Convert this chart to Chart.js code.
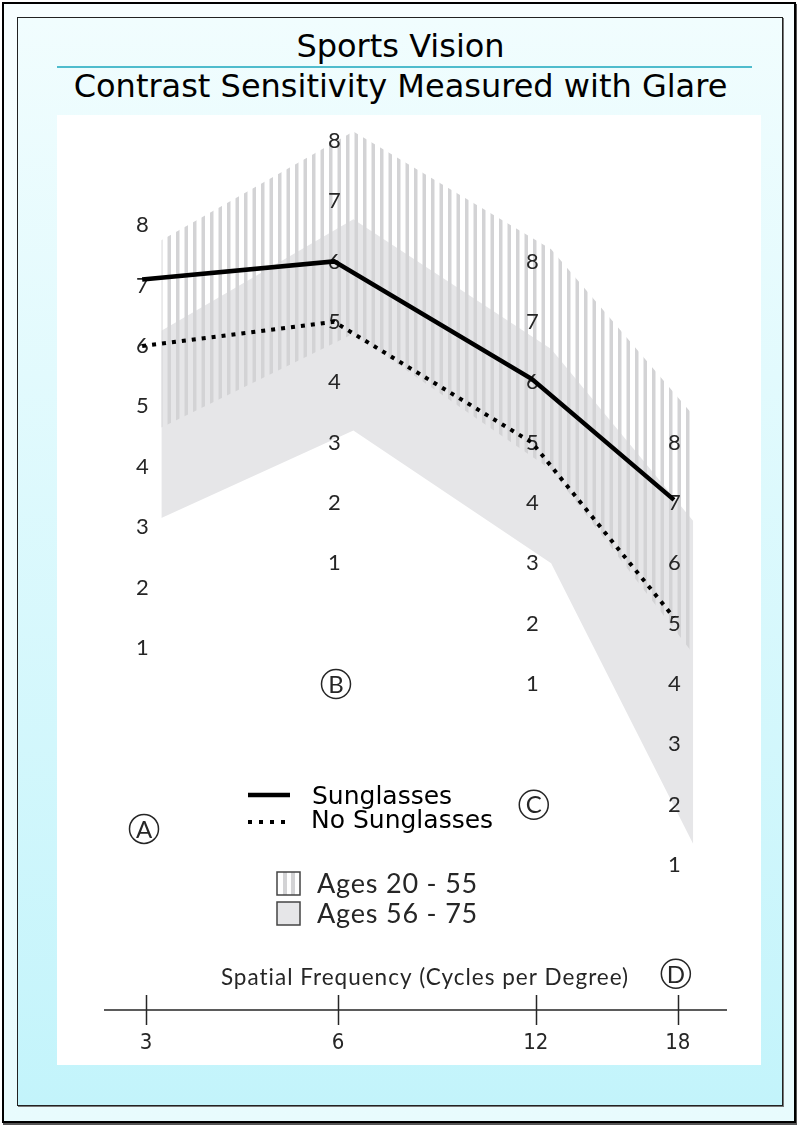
<!DOCTYPE html>
<html>
<head>
<meta charset="utf-8">
<script src="https://cdn.jsdelivr.net/npm/chart.js@4.4.0/dist/chart.umd.min.js"></script>
<style>
  body { margin: 0; width: 801px; height: 1128px; background: #fff; position: relative; overflow: hidden; }
  #outer { position: absolute; left: 2px; top: 2px; width: 794px; height: 1121px; box-sizing: border-box;
           border: 2px solid #000; background: linear-gradient(#f7feff, #e8fbfd); box-shadow: 1px 2px 0 #555; }
  #inner { position: absolute; left: 17px; top: 17px; width: 766px; height: 1089px; box-sizing: border-box;
           border: 1.5px solid #222; background: linear-gradient(#f1fdfe, #c3f4fb); box-shadow: 1px 1px 0 #777; }
  .title { position: absolute; left: 0; width: 801px; text-align: center; font-family: "DejaVu Sans", sans-serif;
           font-size: 32px; color: #000; line-height: 1; }
  #rule { position: absolute; left: 57px; top: 66px; width: 695px; height: 1.5px; background: #4fbccd; }
  #panel { position: absolute; left: 57px; top: 115px; width: 704px; height: 950px; background: #fff; }
</style>
</head>
<body>
<div id="outer"></div>
<div id="inner"></div>
<div class="title" style="top:30px">Sports Vision</div>
<div id="rule"></div>
<div class="title" style="top:70px">Contrast Sensitivity Measured with Glare</div>
<div id="panel"><canvas id="grafico" width="704" height="950"></canvas></div>

<script>
// Data (values in each column's own 1-8 scale)
const frequencies   = ['3', '6', '12', '18'];
const columnLetters = ['A', 'B', 'C', 'D'];
const scaleLevels   = [1, 2, 3, 4, 5, 6, 7, 8];
const columnShift   = [0, 1.4, -0.6, -3.6];      // how far each column's scale is raised
const sunglasses    = [7.1, 6.0, 6.05, 7.05];
const noSunglasses  = [6.0, 5.0, 5.0, 5.1];
const ages2055High  = [7.75, 8.15, 8.2, 8.45];
const ages2055Low   = [4.65, 4.8, 4.55, 4.5];
const ages5675High  = [6.25, 6.7, 6.55, 6.7];
const ages5675Low   = [3.15, 3.2, 3.0, 1.35];
const letterLevel   = [-2, -1, -1, -0.8];

// Layout: horizontal place of each column on the frequency axis
const colPos    = [0, 1, 2.03, 2.77];
const bandShift = 0.08;
const lineShift = -0.02;

// Build points in the shared vertical units
function puntos(valores, dx){
    return valores.map((v, i) => ({ x: colPos[i] + dx, y: v + columnShift[i] }));
}

// Vertical stripe pattern for the 20-55 band
function patronRayas(){
    const c = document.createElement('canvas');
    c.width = 17; c.height = 4;
    const g = c.getContext('2d');
    g.fillStyle = '#d3d3d5';
    g.fillRect(0, 0, 3.5, 4);
    g.fillRect(8.5, 0, 3.5, 4);
    return g.createPattern(c, 'repeat');
}
const rayas = patronRayas();
const grisBanda = '#e6e6e8';
const tinta = '#262626';

const decorPlugin = {
    id: 'decor',
    // column numbers sit above the bands but below the lines
    afterDatasetDraw(chart, args){
        if(args.index !== 2) return;
        const ctx = chart.ctx, xs = chart.scales.x, ys = chart.scales.y;
        ctx.save();
        ctx.fillStyle = tinta;
        ctx.font = '22px Lato';
        ctx.textAlign = 'center';
        ctx.textBaseline = 'middle';
        colPos.forEach((p, i) => {
            scaleLevels.forEach(v => {
                ctx.fillText(String(v), xs.getPixelForValue(p) - 3.5, ys.getPixelForValue(v + columnShift[i]));
            });
        });
        ctx.restore();
    },
    afterDraw(chart){
        const ctx = chart.ctx, xs = chart.scales.x, ys = chart.scales.y;
        const area = chart.chartArea;
        ctx.save();
        ctx.strokeStyle = tinta;
        ctx.fillStyle = tinta;

        // circled column letters
        colPos.forEach((p, i) => {
            const cx = xs.getPixelForValue(p) - 2;
            const cy = ys.getPixelForValue(letterLevel[i] + columnShift[i]);
            ctx.lineWidth = 1.5;
            ctx.beginPath();
            ctx.arc(cx, cy, 14.5, 0, Math.PI * 2);
            ctx.stroke();
            ctx.font = '24px Lato';
            ctx.textAlign = 'center';
            ctx.textBaseline = 'middle';
            ctx.fillText(columnLetters[i], cx, cy + 1);
        });

        // frequency axis
        const yb = area.bottom;
        ctx.lineWidth = 1.5;
        ctx.beginPath();
        ctx.moveTo(area.left, yb);
        ctx.lineTo(area.right, yb);
        colPos.forEach(p => {
            const x = Math.round(xs.getPixelForValue(p)) + 0.5;
            ctx.moveTo(x, yb - 15);
            ctx.lineTo(x, yb + 15);
        });
        ctx.stroke();
        ctx.font = '22px "Liberation Sans Narrow", "DejaVu Sans Condensed", sans-serif';
        ctx.textAlign = 'center';
        ctx.textBaseline = 'middle';
        colPos.forEach((p, i) => ctx.fillText(frequencies[i], xs.getPixelForValue(p), yb + 33));
        ctx.font = '22.5px Lato';
        ctx.letterSpacing = '1px';
        ctx.fillText('Spatial Frequency (Cycles per Degree)', 368, yb - 32);

        // legend
        ctx.letterSpacing = '0px';
        ctx.strokeStyle = '#000';
        ctx.lineWidth = 4.5;
        ctx.beginPath();
        ctx.moveTo(191, 680); ctx.lineTo(233, 680);
        ctx.stroke();
        ctx.lineWidth = 4;
        ctx.setLineDash([4, 7]);
        ctx.beginPath();
        ctx.moveTo(191, 707); ctx.lineTo(233, 707);
        ctx.stroke();
        ctx.setLineDash([]);
        ctx.fillStyle = '#000';
        ctx.font = '25px "DejaVu Sans"';
        ctx.textAlign = 'left';
        ctx.fillText('Sunglasses', 255, 682);
        ctx.fillText('No Sunglasses', 254, 706);

        ctx.lineWidth = 1.5;
        ctx.strokeStyle = '#444';
        ctx.fillStyle = '#fff';
        ctx.fillRect(220, 757, 23, 23);
        ctx.fillStyle = '#d3d3d5';
        ctx.fillRect(226, 757, 4, 23);
        ctx.fillRect(234, 757, 4, 23);
        ctx.strokeRect(220, 757, 23, 23);
        ctx.fillStyle = grisBanda;
        ctx.fillRect(220, 787, 23, 23);
        ctx.strokeRect(220, 787, 23, 23);
        ctx.fillStyle = tinta;
        ctx.font = '27px Lato';
        ctx.letterSpacing = '0.8px';
        ctx.fillText('Ages 20 - 55', 260, 769);
        ctx.fillText('Ages 56 - 75', 260, 799);
        ctx.restore();
    }
};

const chartSport = new Chart(document.getElementById('grafico'), {
    type: 'line',
    data: {
        datasets: [
            { label: 'Sunglasses', data: puntos(sunglasses, lineShift), borderColor: '#000', borderWidth: 4.5,
              borderJoinStyle: 'miter', pointRadius: 0, fill: false, order: 0 },
            { label: 'No Sunglasses', data: puntos(noSunglasses, lineShift), borderColor: '#000', borderWidth: 4,
              borderDash: [4, 6], pointRadius: 0, fill: false, order: 1 },
            { label: 'Ages 20 - 55', data: puntos(ages2055High, bandShift), borderWidth: 0, pointRadius: 0,
              backgroundColor: rayas, fill: '+1', order: 2 },
            { label: 'Ages 20 - 55 low', data: puntos(ages2055Low, bandShift), borderWidth: 0, pointRadius: 0,
              fill: false, order: 3 },
            { label: 'Ages 56 - 75', data: puntos(ages5675High, bandShift), borderWidth: 0, pointRadius: 0,
              backgroundColor: grisBanda, fill: '+1', order: 4 },
            { label: 'Ages 56 - 75 low', data: puntos(ages5675Low, bandShift), borderWidth: 0, pointRadius: 0,
              fill: false, order: 5 }
        ]
    },
    options: {
        responsive: false,
        animation: false,
        devicePixelRatio: 1,
        clip: false,
        layout: { padding: { left: 47, right: 34, top: 13.6, bottom: 55 } },
        scales: {
            x: { type: 'linear', display: false, min: -0.21875, max: 3.026 },
            y: { type: 'linear', display: false, min: -5, max: 9.6 }
        },
        plugins: {
            legend:  { display: false },
            tooltip: { enabled: false }
        }
    },
    plugins: [decorPlugin]
});
</script>
</body>
</html>
